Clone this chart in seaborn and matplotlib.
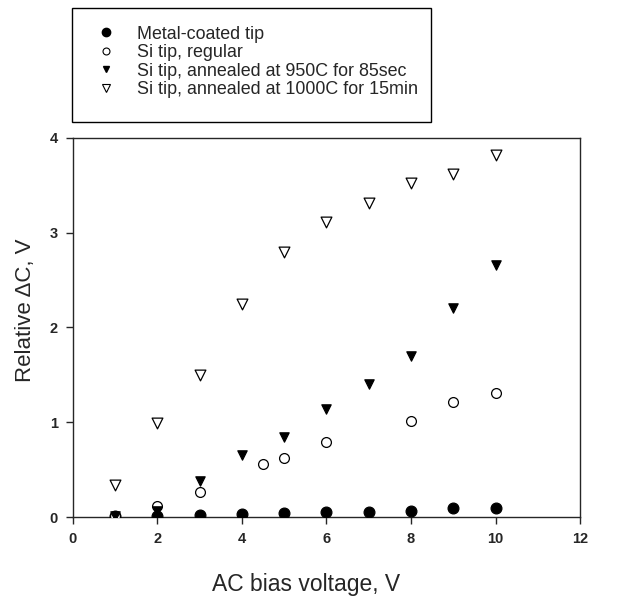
import matplotlib
matplotlib.use("Agg")
import matplotlib.pyplot as plt
from matplotlib.lines import Line2D
from matplotlib.patches import Rectangle
import numpy as np
import pandas as pd
import seaborn as sns

sns.set_style("ticks")
plt.rcParams["font.family"] = ["Liberation Sans", "DejaVu Sans"]
plt.rcParams["axes.linewidth"] = 1.0

# Data
x_metal = [1, 2, 3, 4, 5, 6, 7, 8, 9, 10]
y_metal = [0.01, 0.01, 0.02, 0.03, 0.045, 0.05, 0.055, 0.067, 0.09, 0.10]

x_si = [1, 2, 3, 4.5, 5, 6, 8, 9, 10]
y_si = [0.01, 0.12, 0.265, 0.555, 0.626, 0.79, 1.01, 1.21, 1.31]

x_950 = [1, 2, 3, 4, 5, 6, 7, 8, 9, 10]
y_950 = [0.01, 0.06, 0.375, 0.65, 0.84, 1.14, 1.40, 1.70, 2.20, 2.66]

x_1000 = [1, 2, 3, 4, 5, 6, 7, 8, 9, 10]
y_1000 = [0.34, 0.995, 1.50, 2.25, 2.80, 3.11, 3.31, 3.52, 3.62, 3.82]

labels = ["Metal-coated tip", "Si tip, regular",
          "Si tip, annealed at 950C for 85sec",
          "Si tip, annealed at 1000C for 15min"]

fig = plt.figure(figsize=(6.28, 5.97), dpi=100)
ax = fig.add_axes([0.1162, 0.134, 0.8074, 0.635])

series = [
    (x_metal, y_metal, "o", "black", 60),
    (x_si, y_si, "o", "white", 50),
    (x_950, y_950, "v", "black", 45),
    (x_1000, y_1000, "v", "white", 60),
]
for (xs, ys, mk, fc, s), lab in zip(series, labels):
    sns.scatterplot(x=xs, y=ys, marker=mk, color=fc, edgecolor="black",
                    linewidth=0.9, s=s, ax=ax, legend=False, zorder=3)

ax.set_xlim(0, 12)
ax.set_ylim(0, 4)
ax.set_xticks(range(0, 13, 2))
ax.set_yticks(range(0, 5))
ax.tick_params(direction="out", length=5, width=1, labelsize=10.5, pad=6)
for t in ax.get_xticklabels() + ax.get_yticklabels():
    t.set_fontweight("bold")
ax.set_xlabel("AC bias voltage, V", fontsize=16.5)
ax.set_ylabel("Relative \u0394C, V", fontsize=16)
ax.xaxis.set_label_coords(0.46, -0.147)
ax.yaxis.set_label_coords(-0.072, 0.545)

# legend box above the axes
fig.patches.append(Rectangle((0.1146, 0.7956), 0.5718, 0.191,
                             transform=fig.transFigure, fill=False,
                             edgecolor="black", linewidth=1.0))
handles = [
    Line2D([], [], linestyle="", marker="o", markerfacecolor="black",
           markeredgecolor="black", markersize=6),
    Line2D([], [], linestyle="", marker="o", markerfacecolor="white",
           markeredgecolor="black", markersize=5, markeredgewidth=0.8),
    Line2D([], [], linestyle="", marker="v", markerfacecolor="black",
           markeredgecolor="black", markersize=5),
    Line2D([], [], linestyle="", marker="v", markerfacecolor="white",
           markeredgecolor="black", markersize=6, markeredgewidth=0.8),
]
fig.legend(handles, labels, loc="upper left",
           bbox_to_anchor=(0.158, 0.957), frameon=False,
           fontsize=12.9, labelspacing=0.08, handlelength=0.8,
           handletextpad=1.3, borderaxespad=0, borderpad=0)

fig.savefig("out.png", dpi=100)
